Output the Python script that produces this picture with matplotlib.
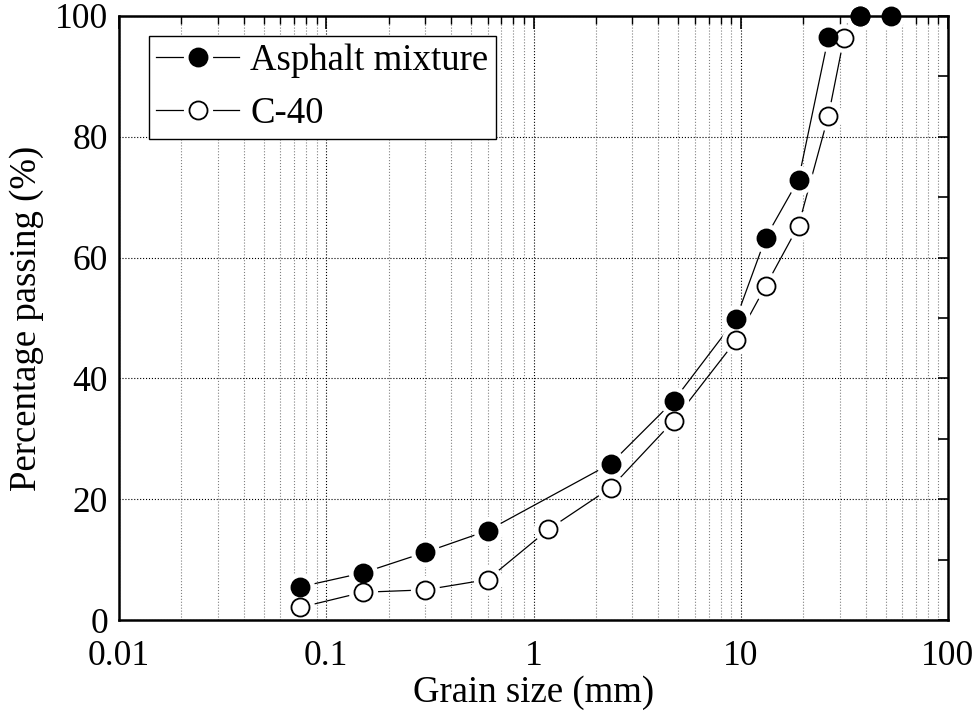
import numpy as np
import matplotlib
matplotlib.use('Agg')
import matplotlib.pyplot as plt
from matplotlib.ticker import LogLocator, MultipleLocator, NullFormatter
from matplotlib.legend_handler import HandlerTuple

plt.rcParams['font.family'] = ['Liberation Serif', 'DejaVu Serif']

# grain sizes (mm) and percentage passing
size_asphalt = [0.075, 0.15, 0.3, 0.6, 2.36, 4.75, 9.5, 13.2, 19, 26.5, 37.5, 53]
pass_asphalt = [5.5, 7.8, 11.2, 14.8, 25.9, 36.3, 49.9, 63.3, 72.9, 96.5, 100, 100]

size_c40 = [0.075, 0.15, 0.3, 0.6, 1.18, 2.36, 4.75, 9.5, 13.2, 19, 26.5, 31.5, 37.5]
pass_c40 = [2.1, 4.6, 5.0, 6.7, 15.0, 21.9, 33.0, 46.3, 55.3, 65.3, 83.5, 96.4, 100]

fig = plt.figure(figsize=(9.79, 7.21), dpi=100)
ax = fig.add_axes([0.1216, 0.140, 0.8467, 0.838])

ms = 13
halo = 20

def series(x, y, face, z):
    ln, = ax.plot(x, y, '-', color='black', lw=0.9, zorder=3)
    hl, = ax.plot(x, y, 'o', ms=halo, mfc='white', mec='white', zorder=4,
                  clip_on=False)
    mk, = ax.plot(x, y, 'o', ms=ms, mfc=face, mec='black', mew=1.3, zorder=z,
                  clip_on=False)
    return (ln, hl, mk)

# C-40 first so the filled markers sit on top where the curves meet
h2 = series(size_c40, pass_c40, 'white', 5)
h1 = series(size_asphalt, pass_asphalt, 'black', 6)

ax.set_xscale('log')
ax.set_xlim(0.01, 100)
ax.set_ylim(0, 100)

ax.xaxis.set_minor_locator(LogLocator(base=10, subs=np.arange(2, 10), numticks=20))
ax.xaxis.set_minor_formatter(NullFormatter())
ax.set_xticks([0.01, 0.1, 1, 10, 100])
ax.set_xticklabels(['0.01', '0.1', '1', '10', '100'])
ax.set_yticks([0, 20, 40, 60, 80, 100])
ax.yaxis.set_minor_locator(MultipleLocator(10))

ax.tick_params(axis='x', which='both', bottom=False, top=True, direction='in',
               labelsize=25.5, pad=14)
ax.tick_params(axis='x', which='major', length=9, width=1.2)
ax.tick_params(axis='x', which='minor', length=6, width=1.0)
ax.tick_params(axis='y', which='both', left=False, right=True, direction='in',
               labelsize=25.5, pad=8, length=7, width=1.2)

ax.grid(True, which='major', axis='both', linestyle=':', color='black', lw=0.8)
ax.grid(True, which='minor', axis='x', linestyle=':', color='0.5', lw=0.8)

for sp in ax.spines.values():
    sp.set_linewidth(1.8)
    sp.set_zorder(7)

ax.set_xlabel('Grain size (mm)', fontsize=26.5, labelpad=2)
ax.set_ylabel('Percentage passing (%)', fontsize=26.5, labelpad=8)

leg = ax.legend([h1, h2], ['Asphalt mixture', 'C-40'],
                handler_map={tuple: HandlerTuple(ndivide=1)},
                loc='upper left', bbox_to_anchor=(0.036, 0.966),
                fontsize=26.5, numpoints=1, handlelength=2.25, handletextpad=0.3,
                labelspacing=0.5, borderpad=0.2, borderaxespad=0,
                fancybox=False, framealpha=1, edgecolor='black')
leg.get_frame().set_linewidth(1.0)
leg.set_zorder(10)

fig.savefig('out.png', dpi=100)
